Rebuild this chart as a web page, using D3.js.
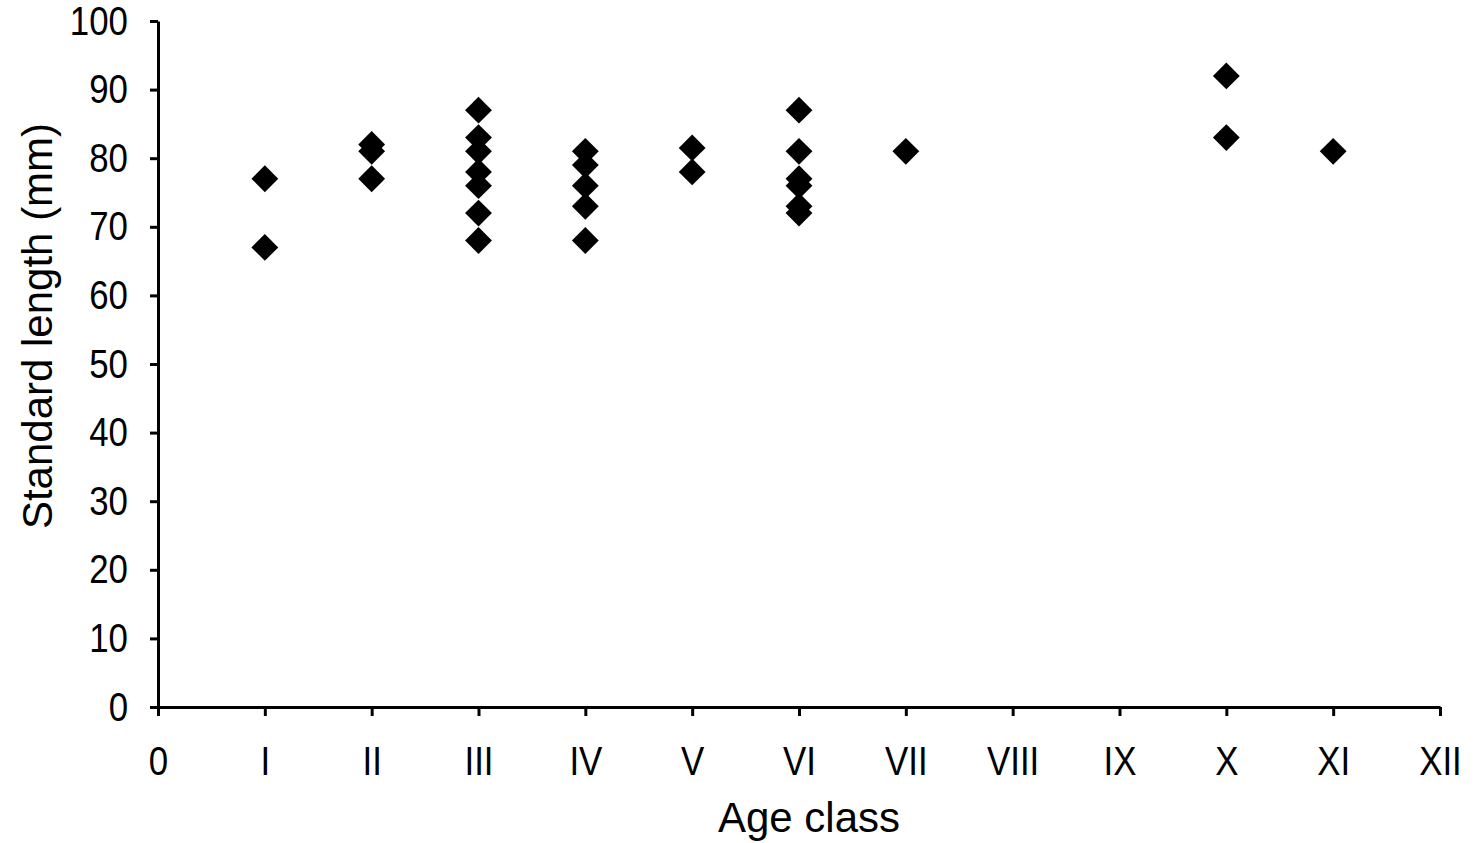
<!DOCTYPE html>
<html>
<head>
<meta charset="utf-8">
<script src="https://cdn.jsdelivr.net/npm/d3@7"></script>
<style>
  body { margin: 0; background: #fff; }
  svg text { font-family: "Liberation Sans", Arial, sans-serif; fill: #000; }
</style>
</head>
<body>
<div id="chart"></div>
<script>
// age class tick labels (0..XII)
const ageLabels = ["0", "I", "II", "III", "IV", "V", "VI", "VII", "VIII", "IX", "X", "XI", "XII"];
// one entry per fish: age class index and standard length (mm)
const ageIndex = [1, 1, 2, 2, 2, 3, 3, 3, 3, 3, 3, 3, 4, 4, 4, 4, 4, 5, 5, 6, 6, 6, 6, 6, 6, 7, 10, 10, 11];
const stdLength = [77, 67, 82, 81, 77, 87, 83, 81, 78, 76, 72, 68, 81, 79, 76, 73, 68, 81.5, 78, 87, 81, 77, 76, 73, 72, 81, 92, 83, 81];
const yTicks = [0, 10, 20, 30, 40, 50, 60, 70, 80, 90, 100];

const W = 1476, H = 843;
const margin = { top: 21, right: 36, bottom: 136, left: 158 };
const squeeze = 0.85; // tick labels in the original are narrow and tall

const svg = d3.select("#chart").append("svg")
  .attr("width", W)
  .attr("height", H);

const x = d3.scaleLinear().domain([0, 12]).range([margin.left, W - margin.right]);
const y = d3.scaleLinear().domain([0, 100]).range([H - margin.bottom, margin.top]);

// y axis
const yAxis = d3.axisLeft(y).tickValues(yTicks).tickSize(8).tickSizeOuter(0).tickPadding(22);
const gy = svg.append("g")
  .attr("transform", "translate(" + margin.left + ",0)")
  .call(yAxis);

// x axis
const xAxis = d3.axisBottom(x).ticks(12).tickSize(9).tickSizeOuter(0).tickPadding(30)
  .tickFormat(function(d) { return ageLabels[d]; });
const gx = svg.append("g")
  .attr("transform", "translate(0," + (H - margin.bottom) + ")")
  .call(xAxis);

[gx, gy].forEach(function(g) {
  g.select(".domain").attr("stroke", "#000").attr("stroke-width", 3);
  g.selectAll(".tick line").attr("stroke", "#000").attr("stroke-width", 3);
  g.selectAll(".tick text")
    .attr("font-size", 41)
    .attr("font-family", null)
    .attr("transform", "scale(" + squeeze + ",1)");
});
// undo the squeeze on the y label offset so right edges stay put
gy.selectAll(".tick text").attr("x", -30 / squeeze);

// axis titles
svg.append("text")
  .attr("x", (margin.left + W - margin.right) / 2 + 10)
  .attr("y", 832)
  .attr("text-anchor", "middle")
  .attr("font-size", 42)
  .text("Age class");

svg.append("text")
  .attr("transform", "translate(52," + 326 + ") rotate(-90)")
  .attr("text-anchor", "middle")
  .attr("font-size", 42)
  .text("Standard length (mm)");

// diamond markers
const diamond = d3.symbol().type(d3.symbolSquare).size(360);
svg.append("g")
  .selectAll("path")
  .data(ageIndex)
  .enter()
  .append("path")
  .attr("d", diamond)
  .attr("transform", function(d, i) {
    return "translate(" + x(d) + "," + y(stdLength[i]) + ") rotate(45)";
  })
  .attr("fill", "#000");
</script>
</body>
</html>
